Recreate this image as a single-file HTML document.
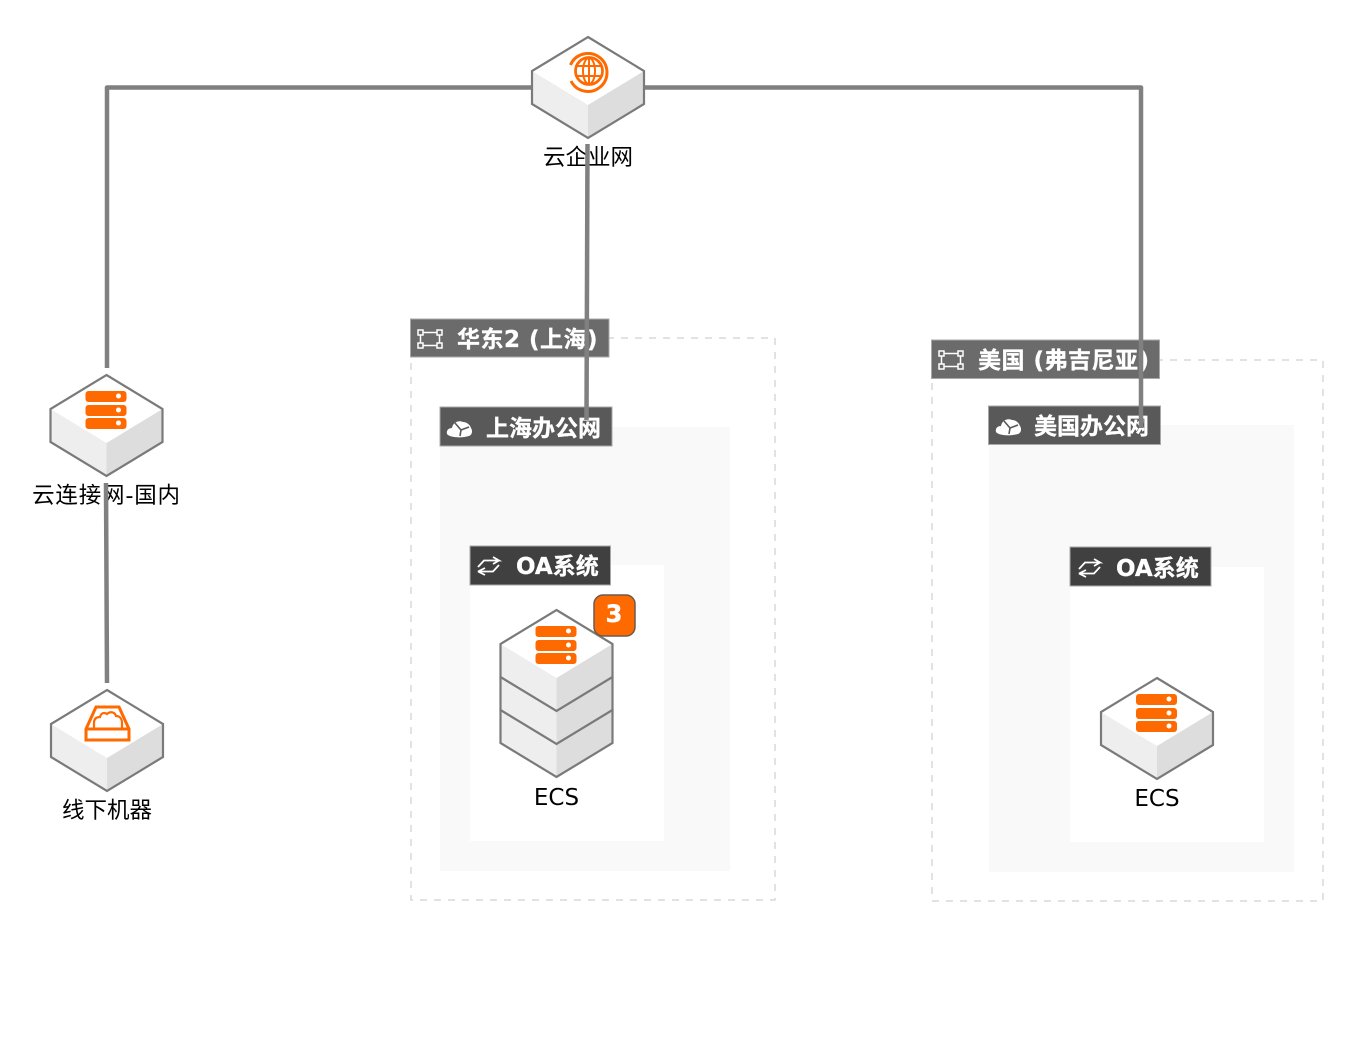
<!DOCTYPE html>
<html><head><meta charset="utf-8"><style>
html,body{margin:0;padding:0;background:#fff}
svg{display:block}
text{font-family:"DejaVu Sans","Noto Sans CJK SC",sans-serif}
.l{font-size:22.500px;fill:#000;text-anchor:middle}
.e{font-size:23px;fill:#000;text-anchor:middle}
.t{font-size:23px;font-weight:bold;fill:#fff;stroke:#fff;stroke-width:.3px}
.b{stroke:#a8a8a8;stroke-width:1}
</style></head><body>
<svg width="1360" height="1060" viewBox="0 0 1360 1060" xmlns="http://www.w3.org/2000/svg">
<defs>
<g id="cube">
<path d="M0 0L56 34V67L0 101L-56 67V34Z" fill="#fff"/>
<path d="M-56 34L0 68V101L-56 67Z" fill="#eee"/>
<path d="M56 34L0 68V101L56 67Z" fill="#ddd"/>
<path d="M0 0L56 34V67L0 101L-56 67V34Z" fill="none" stroke="#7a7a7a" stroke-width="2.200"/>
</g>
<g id="srv" fill="#ff6a00">
<rect x="-21" y="16" width="41" height="11" rx="3"/><rect x="-21" y="30" width="41" height="11" rx="3"/><rect x="-21" y="43" width="41" height="11" rx="3"/>
<circle cx="12" cy="21" r="2.500" fill="#fff"/><circle cx="12" cy="35" r="2.500" fill="#fff"/><circle cx="12" cy="48" r="2.500" fill="#fff"/>
</g>
<g id="reg" fill="none" stroke="#fff" stroke-width="1.500">
<rect x="0" y="0" width="5" height="5"/><rect x="19" y="0" width="5" height="5"/><rect x="0" y="13" width="5" height="5"/><rect x="19" y="13" width="5" height="5"/>
<path d="M5 2.500H19M5 15.500H19M2.500 5V13M21.500 5V13"/>
</g>
<g id="cld">
<path d="M0 15C-1 11 2 9 5 9C6 3 12 1 16 3C20 3 23 6 24 9C26 12 25 16 22 17C16 19 3 19 0 15Z" fill="#fff"/>
<path d="M8 4L14 11L13 17M14 11L22 8" fill="none" stroke="#595959" stroke-width="1.600"/>
</g>
<g id="arr" fill="none" stroke="#fff" stroke-width="1.800">
<path d="M1 11L7 4.500H22L16 1M22 4.500L16 8"/>
<path d="M22 9L16 15.500H1L8 12M1 15.500L8 19"/>
</g>
</defs>

<rect x="411" y="338" width="364" height="562" fill="#fff" stroke="#d9d9d9" stroke-width="1.500" stroke-dasharray="7 7"/>
<rect x="932" y="360" width="391" height="541" fill="#fff" stroke="#d9d9d9" stroke-width="1.500" stroke-dasharray="7 7"/>
<rect x="440" y="427" width="290" height="444" fill="#f9f9f9"/>
<rect x="989" y="425" width="305" height="447" fill="#f9f9f9"/>
<rect x="470" y="565" width="194" height="276" fill="#fff"/>
<rect x="1070" y="567" width="194" height="275" fill="#fff"/>

<rect class="b" x="410.500" y="319" width="198.500" height="38" fill="#6b6b6b"/>
<use href="#reg" x="418" y="330"/>
<text class="t" x="457" y="347" letter-spacing=".5">华东2 (上海)</text>
<rect class="b" x="440" y="407" width="172" height="39" fill="#595959"/>
<use href="#cld" x="447" y="419"/>
<text class="t" x="486" y="436">上海办公网</text>
<rect class="b" x="470" y="546" width="140.500" height="39" fill="#404040"/>
<use href="#arr" x="477" y="556"/>
<text class="t" x="516" y="574">OA系统</text>

<rect class="b" x="931.500" y="340" width="228" height="38.500" fill="#6b6b6b"/>
<use href="#reg" x="939" y="351"/>
<text class="t" x="978" y="368" letter-spacing=".5">美国 (弗吉尼亚)</text>
<rect class="b" x="988.500" y="406" width="172" height="38.500" fill="#595959"/>
<use href="#cld" x="996" y="417"/>
<text class="t" x="1034" y="434">美国办公网</text>
<rect class="b" x="1070" y="547" width="141" height="39" fill="#404040"/>
<use href="#arr" x="1078" y="558"/>
<text class="t" x="1116" y="576">OA系统</text>

<text class="l" x="588" y="165">云企业网</text>
<text class="l" x="106.500" y="503" letter-spacing=".8">云连接网-国内</text>
<text class="l" x="107" y="818">线下机器</text>
<text class="e" x="556.500" y="805">ECS</text>
<text class="e" x="1157" y="806">ECS</text>

<g fill="none" stroke="#808080" stroke-width="4.500" stroke-linejoin="round">
<path d="M532 87.500H107V368"/>
<path d="M644 87.500H1141V428"/>
<path d="M587.500 144L586.500 420"/>
<path d="M106 483L107 683"/>
</g>

<use href="#cube" x="588" y="37"/>
<g fill="none" stroke="#ff6a00">
<circle cx="589" cy="71" r="13.500" stroke-width="2.800"/>
<path d="M570.500 65A19 19 0 1 1 571 81" stroke-width="3"/>
<ellipse cx="589" cy="71" rx="6" ry="13" stroke-width="2"/>
<path d="M589 58V84M576 66H602M576 76H602" stroke-width="2"/>
</g>

<use href="#cube" x="106.500" y="375"/>
<use href="#srv" x="106.500" y="375"/>

<use href="#cube" x="107" y="690"/>
<g fill="none" stroke="#ff6a00" stroke-width="3">
<path d="M86 729V740H129V729L119 707H96Z"/><path d="M86 729H129"/>
<path d="M94 729V723C94 718 97 717 100 717C101 713 104 712 107 714C110 711 115 712 116 716C120 716 122 719 122 723V729" stroke-width="2.200"/>
</g>

<use href="#cube" x="556.500" y="676"/>
<use href="#cube" x="556.500" y="643"/>
<use href="#cube" x="556.500" y="610"/>
<use href="#srv" x="556.500" y="610"/>
<rect x="594" y="595" width="41" height="41" rx="9" fill="#ff6a00" stroke="#6b5a4e" stroke-width="1.500"/>
<text x="614" y="622" font-size="24" font-weight="bold" fill="#fff" stroke="#fff" stroke-width=".5" text-anchor="middle">3</text>

<use href="#cube" x="1157" y="678"/>
<use href="#srv" x="1157" y="678"/>
</svg>
</body></html>
